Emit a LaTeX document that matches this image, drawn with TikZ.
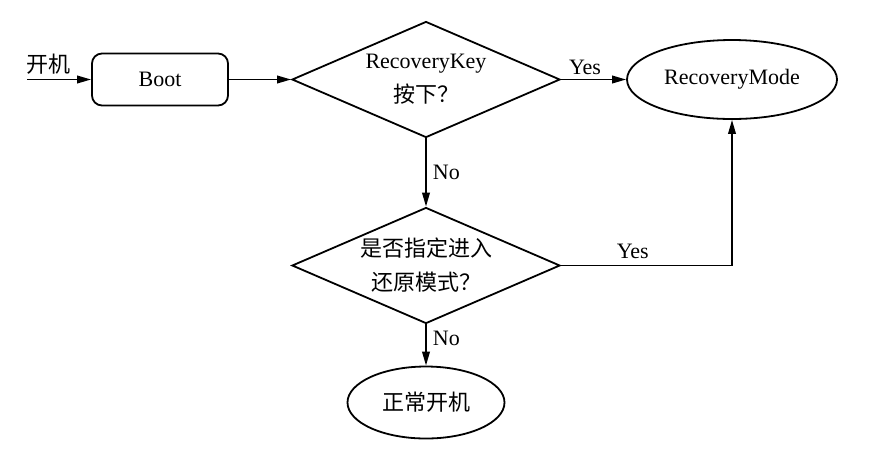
\documentclass[tikz,border=0pt]{standalone}
\usepackage{fontspec}
\setmainfont{Liberation Serif}
\newfontfamily\cjk{Noto Sans CJK SC}
\usetikzlibrary{positioning}
\usetikzlibrary{shapes.geometric}
\usetikzlibrary{arrows.meta}

\begin{document}
\begin{tikzpicture}[x=0.5pt, y=-0.5pt, on grid, line width=0.9pt,
                    every node/.style={font=\fontsize{11}{17}\selectfont},
                    procbox/.style={draw, rectangle, rounded corners=5pt,
                                    minimum width=68pt, minimum height=26pt},
                    decision/.style={draw, diamond, aspect=2.3, inner sep=0pt, align=center,
                                     minimum width=134pt, minimum height=58pt},
                    terminal/.style={draw, ellipse, inner sep=0pt}]

  \useasboundingbox (0,0) rectangle (888,457);

  \node[procbox]                      (boot) at (160,79.5) {Boot};
  \coordinate[left=66.5pt of boot]    (on);
  \node[decision, right=133pt of boot] (d1) {RecoveryKey\\{\cjk 按下？}};
  \node[terminal, right=153pt of d1, minimum width=105pt, minimum height=39.5pt]
                                      (rm) {RecoveryMode};
  \node[decision, below=93pt of d1]   (d2) {\cjk 是否指定进入\\\cjk 还原模式？};
  \node[terminal, below=68.5pt of d2, minimum width=78.5pt, minimum height=36pt]
                                      (normal) {\cjk 正常开机};

  \path[-{Triangle[length=7pt, width=3.8pt]}]
    (on)   edge node[above, pos=0.33, inner sep=2pt] {\cjk 开机} (boot)
    (boot) edge (d1)
    (d1)   edge node[above, pos=0.37, inner sep=2pt] {Yes} (rm)
    (d1)   edge node[right, inner sep=3pt] {No} (d2)
    (d2)   edge node[right, pos=0.35, inner sep=3pt] {No} (normal);

  \draw[-{Triangle[length=7pt, width=3.8pt]}]
    (d2.east) -| node[above, pos=0.21, inner sep=3pt] {Yes} (rm.south);

\end{tikzpicture}
\end{document}
